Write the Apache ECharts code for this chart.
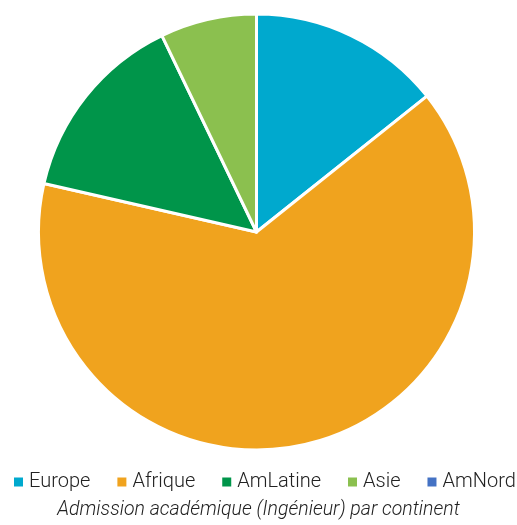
<!DOCTYPE html>
<html>
<head>
<meta charset="utf-8">
<script src="https://cdn.jsdelivr.net/npm/echarts@6/dist/echarts.min.js"></script>
<style>
  html, body { margin: 0; padding: 0; background: #fff; }
  #main { width: 517px; height: 525px; }
</style>
</head>
<body>
<div id="main"></div>
<script>
var categories = ['Europe', 'Afrique', 'AmLatine', 'Asie', 'AmNord'];
var values = [2, 9, 2, 1, 0];
var colors = ['#00A9CE', '#F0A31E', '#00954A', '#8BC04F', '#4472C4'];

var chartDom = document.getElementById('main');
var myChart = echarts.init(chartDom);

var pieData = categories.map(function (name, i) {
    return { name: name, value: values[i], itemStyle: { color: colors[i] } };
});

var option = {
    animation: false,
    title: {
        text: 'Admission académique (Ingénieur) par continent',
        left: 'center',
        bottom: 0,
        textStyle: {
            fontFamily: 'Roboto',
            fontWeight: 300,
            fontStyle: 'italic',
            fontSize: 19.5,
            color: '#222'
        }
    },
    legend: {
        data: categories,
        left: 12,
        top: 472,
        padding: 0,
        icon: 'rect',
        itemWidth: 11,
        itemHeight: 11,
        itemGap: 25,
        textStyle: {
            fontFamily: 'Roboto',
            fontWeight: 300,
            fontSize: 20,
            color: '#222'
        }
    },
    series: [
        {
            type: 'pie',
            center: [256.5, 232],
            radius: [0, 218],
            startAngle: 90,
            clockwise: true,
            label: { show: false },
            labelLine: { show: false },
            itemStyle: { borderColor: '#fff', borderWidth: 3 },
            emphasis: { disabled: true },
            data: pieData
        }
    ]
};

myChart.setOption(option);
</script>
</body>
</html>
